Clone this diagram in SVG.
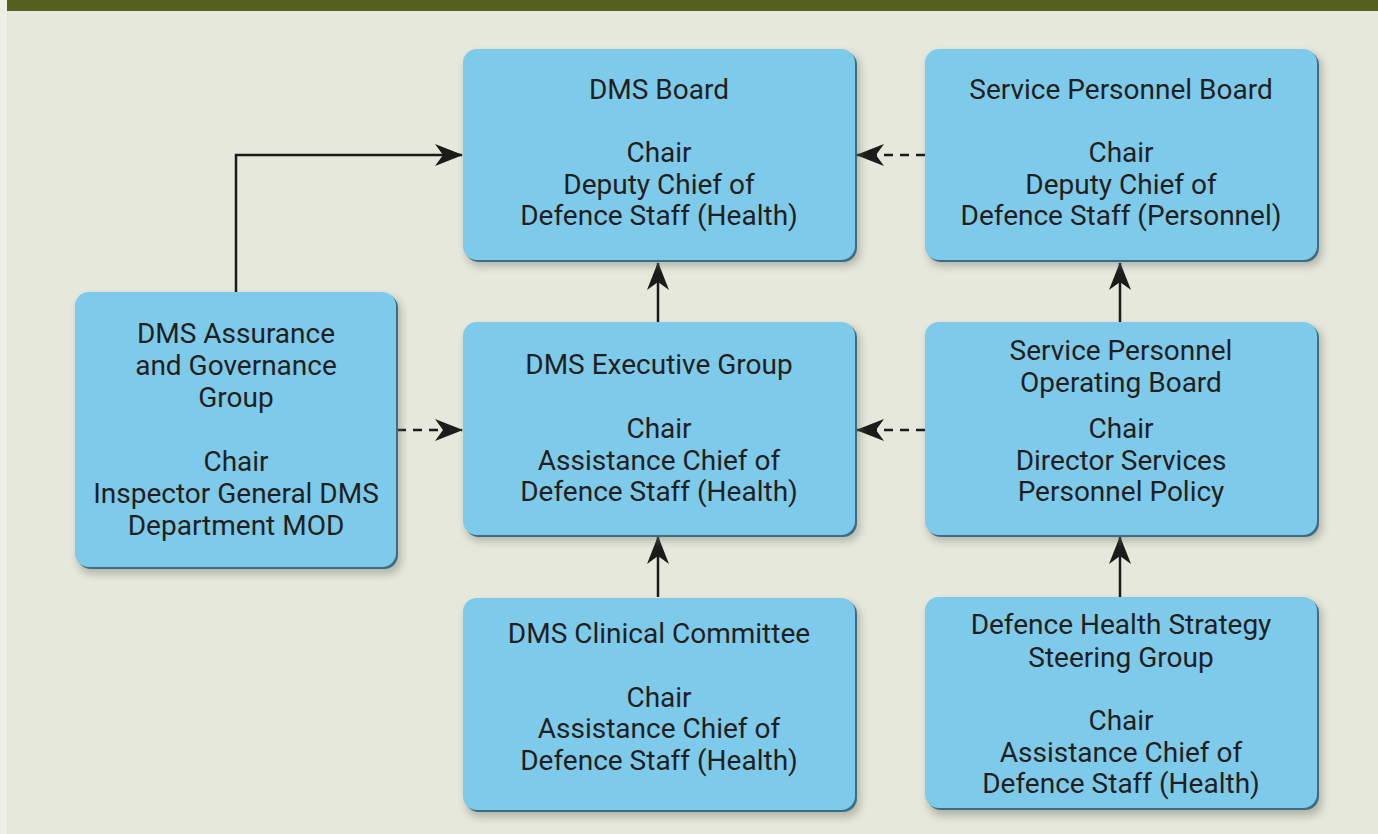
<svg xmlns="http://www.w3.org/2000/svg" width="1378" height="834" viewBox="0 0 1378 834">
  <defs>
    <filter id="soft" x="-10%" y="-10%" width="130%" height="130%">
      <feGaussianBlur stdDeviation="4"/>
    </filter>
    <marker id="head" viewBox="0 0 28 22" refX="27" refY="11" markerWidth="28" markerHeight="22" markerUnits="userSpaceOnUse" orient="auto">
      <path d="M0,0 L28,11 L0,22 L8,11 Z" fill="#1b1b1b"/>
    </marker>
  </defs>
  <style>
    .shade { fill: #6f7368; opacity: 0.45; filter: url(#soft); }
    .edge { fill: #3c6d83; }
    .box { fill: #7ecaea; }
    .label { font-family: Roboto, "Liberation Sans", sans-serif; font-size: 28px; fill: #231f20; text-anchor: middle; }
    .link { fill: none; stroke: #1b1b1b; stroke-width: 2.5; marker-end: url(#head); }
    .dash { stroke-dasharray: 9 7; }
  </style>

  <!-- page -->
  <rect x="0" y="0" width="1378" height="834" fill="#e6e8dc"/>
  <rect x="0" y="0" width="7" height="834" fill="#eef0e8"/>
  <rect x="7" y="0" width="1371" height="11" fill="#56611f"/>

  <!-- connectors -->
  <g id="connectors">
    <path class="link" d="M236,292 V155 H462"/>
    <path class="link dash" d="M397,430 H462"/>
    <path class="link dash" d="M925,155 H857"/>
    <path class="link dash" d="M925,430 H857"/>
    <path class="link" d="M658,322 V263"/>
    <path class="link" d="M658,597 V537"/>
    <path class="link" d="M1120,322 V263"/>
    <path class="link" d="M1120,597 V537"/>
  </g>

  <!-- DMS Board -->
  <g id="dms-board">
    <rect class="shade" x="466" y="54" width="394" height="212" rx="14"/>
    <rect class="edge" x="465" y="51" width="392" height="211" rx="14"/>
    <rect class="box" x="463" y="49" width="392" height="211" rx="14"/>
    <text class="label" x="659" y="99">DMS Board</text>
    <text class="label" x="659" y="162">Chair</text>
    <text class="label" x="659" y="194">Deputy Chief of</text>
    <text class="label" x="659" y="225">Defence Staff (Health)</text>
  </g>

  <!-- Service Personnel Board -->
  <g id="service-personnel-board">
    <rect class="shade" x="928" y="54" width="394" height="212" rx="14"/>
    <rect class="edge" x="927" y="51" width="392" height="211" rx="14"/>
    <rect class="box" x="925" y="49" width="392" height="211" rx="14"/>
    <text class="label" x="1121" y="99">Service Personnel Board</text>
    <text class="label" x="1121" y="162">Chair</text>
    <text class="label" x="1121" y="194">Deputy Chief of</text>
    <text class="label" x="1121" y="225">Defence Staff (Personnel)</text>
  </g>

  <!-- DMS Assurance and Governance Group -->
  <g id="dms-assurance">
    <rect class="shade" x="78" y="297" width="323" height="277" rx="14"/>
    <rect class="edge" x="77" y="294" width="321" height="275" rx="14"/>
    <rect class="box" x="75" y="292" width="321" height="275" rx="14"/>
    <text class="label" x="236" y="343">DMS Assurance</text>
    <text class="label" x="236" y="375">and Governance</text>
    <text class="label" x="236" y="407">Group</text>
    <text class="label" x="236" y="471">Chair</text>
    <text class="label" x="236" y="503">Inspector General DMS</text>
    <text class="label" x="236" y="535">Department MOD</text>
  </g>

  <!-- DMS Executive Group -->
  <g id="dms-executive">
    <rect class="shade" x="466" y="327" width="394" height="214" rx="14"/>
    <rect class="edge" x="465" y="324" width="392" height="213" rx="14"/>
    <rect class="box" x="463" y="322" width="392" height="213" rx="14"/>
    <text class="label" x="659" y="374">DMS Executive Group</text>
    <text class="label" x="659" y="438">Chair</text>
    <text class="label" x="659" y="470">Assistance Chief of</text>
    <text class="label" x="659" y="501">Defence Staff (Health)</text>
  </g>

  <!-- Service Personnel Operating Board -->
  <g id="service-personnel-operating">
    <rect class="shade" x="928" y="327" width="394" height="214" rx="14"/>
    <rect class="edge" x="927" y="324" width="392" height="213" rx="14"/>
    <rect class="box" x="925" y="322" width="392" height="213" rx="14"/>
    <text class="label" x="1121" y="360">Service Personnel</text>
    <text class="label" x="1121" y="392">Operating Board</text>
    <text class="label" x="1121" y="438">Chair</text>
    <text class="label" x="1121" y="470">Director Services</text>
    <text class="label" x="1121" y="501">Personnel Policy</text>
  </g>

  <!-- DMS Clinical Committee -->
  <g id="dms-clinical">
    <rect class="shade" x="466" y="603" width="394" height="214" rx="14"/>
    <rect class="edge" x="465" y="600" width="392" height="212" rx="14"/>
    <rect class="box" x="463" y="598" width="392" height="212" rx="14"/>
    <text class="label" x="659" y="643">DMS Clinical Committee</text>
    <text class="label" x="659" y="707">Chair</text>
    <text class="label" x="659" y="738">Assistance Chief of</text>
    <text class="label" x="659" y="770">Defence Staff (Health)</text>
  </g>

  <!-- Defence Health Strategy Steering Group -->
  <g id="defence-health-strategy">
    <rect class="shade" x="928" y="602" width="394" height="214" rx="14"/>
    <rect class="edge" x="927" y="599" width="392" height="211" rx="14"/>
    <rect class="box" x="925" y="597" width="392" height="211" rx="14"/>
    <text class="label" x="1121" y="634">Defence Health Strategy</text>
    <text class="label" x="1121" y="667">Steering Group</text>
    <text class="label" x="1121" y="730">Chair</text>
    <text class="label" x="1121" y="762">Assistance Chief of</text>
    <text class="label" x="1121" y="793">Defence Staff (Health)</text>
  </g>
</svg>
